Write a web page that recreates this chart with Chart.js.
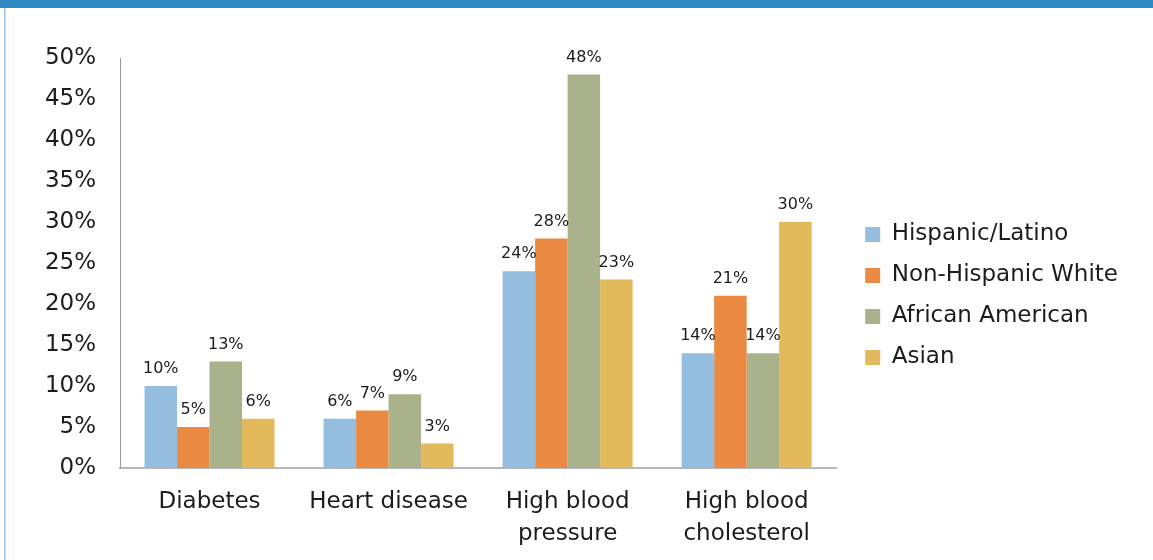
<!DOCTYPE html>
<html>
<head>
<meta charset="utf-8">
<script src="https://cdn.jsdelivr.net/npm/chart.js@4/dist/chart.umd.min.js"></script>
<style>
  html, body { margin: 0; padding: 0; background: #ffffff; }
  #wrap { position: relative; width: 1153px; height: 560px; }
</style>
</head>
<body>
<div id="wrap"><canvas id="chart" width="1153" height="560"></canvas></div>
<script>
// Health conditions by group (percent of adults)
const categories = ['Diabetes', 'Heart disease', ['High blood', 'pressure'], ['High blood', 'cholesterol']];
const hispanicLatino = [10, 6, 24, 14];
const nonHispanicWhite = [5, 7, 28, 21];
const africanAmerican = [13, 9, 48, 14];
const asian = [6, 3, 23, 30];
const seriesNames = ['Hispanic/Latino', 'Non-Hispanic White', 'African American', 'Asian'];
const yTicks = [0, 5, 10, 15, 20, 25, 30, 35, 40, 45, 50];

const colors = ['#95bde0', '#ea8a42', '#a9b28a', '#e3ba5b'];
const FONT = "'DejaVu Sans', sans-serif";
const TEXT = '#1c1c1c';

// Page frame: blue band on top, thin rule on the left
const framePlugin = {
  id: 'frame',
  beforeDraw(chart) {
    const c = chart.ctx;
    c.save();
    c.fillStyle = '#2e88c2';
    c.fillRect(0, 0, chart.width, 8);
    c.fillStyle = '#93c0e8';
    c.fillRect(4, 8, 1.5, chart.height - 8);
    c.restore();
  }
};

// Percentage labels above each bar
const valueLabels = {
  id: 'valueLabels',
  afterDatasetsDraw(chart) {
    const c = chart.ctx;
    c.save();
    c.font = '16px ' + FONT;
    c.fillStyle = TEXT;
    c.textAlign = 'center';
    c.textBaseline = 'middle';
    chart.data.datasets.forEach((ds, i) => {
      chart.getDatasetMeta(i).data.forEach((bar, j) => {
        c.fillText(ds.data[j] + '%', bar.x, bar.y - 17);
      });
    });
    c.restore();
  }
};

const seriesData = [hispanicLatino, nonHispanicWhite, africanAmerican, asian];

new Chart(document.getElementById('chart'), {
  type: 'bar',
  data: {
    labels: categories,
    datasets: seriesData.map((d, i) => ({
      label: seriesNames[i],
      data: d,
      backgroundColor: colors[i],
      borderWidth: 0,
      categoryPercentage: 0.726,
      barPercentage: 1.0
    }))
  },
  options: {
    responsive: false,
    animation: false,
    layout: { padding: { top: 32, bottom: 0, left: 0, right: 25 } },
    plugins: {
      tooltip: { enabled: false },
      legend: {
        position: 'right',
        align: 'center',
        maxWidth: 320,
        labels: {
          boxWidth: 15,
          boxHeight: 15,
          padding: 18,
          color: TEXT,
          font: { family: FONT, size: 23 }
        }
      }
    },
    scales: {
      x: {
        grid: { display: false, drawTicks: false },
        border: { display: true, color: '#b3b6ba', width: 2 },
        ticks: {
          color: TEXT,
          padding: 18,
          maxRotation: 0,
          autoSkip: false,
          font: { family: FONT, size: 23, lineHeight: 32 / 23 }
        },
        afterFit(scale) { scale.height = 92; }
      },
      y: {
        min: 0,
        max: 50,
        grid: { display: false, drawTicks: false },
        border: { display: true, color: '#9a9a9a', width: 1 },
        afterBuildTicks(scale) { scale.ticks = yTicks.map(v => ({ value: v })); },
        ticks: {
          color: TEXT,
          padding: 24,
          font: { family: FONT, size: 23 },
          callback: v => v + '%'
        },
        afterFit(scale) {
          scale.width = 120;
          scale.paddingTop = 58;
        }
      },
      gap: {
        type: 'linear',
        position: 'right',
        display: true,
        grid: { display: false, drawTicks: false },
        border: { display: false },
        ticks: { display: false },
        afterFit(scale) { scale.width = 11; }
      }
    }
  },
  plugins: [framePlugin, valueLabels]
});
</script>
</body>
</html>
